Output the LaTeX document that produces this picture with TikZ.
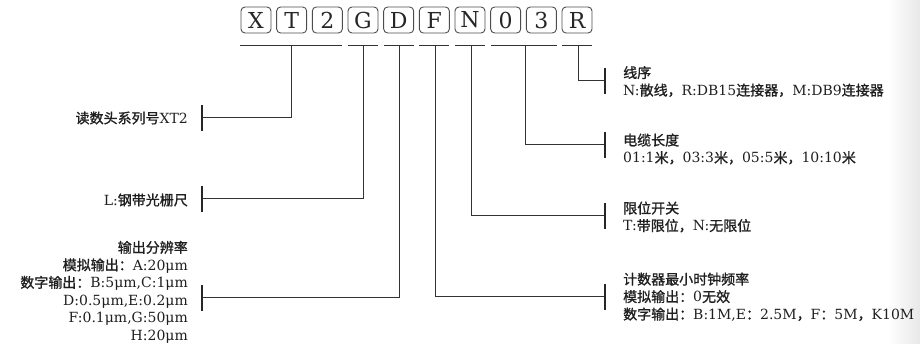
\documentclass[tikz,border=0pt]{standalone}
\usepackage{fontspec}
\setmainfont{DejaVu Serif}
\newfontfamily\cjk{Noto Sans CJK SC}[FakeBold=1.2]
\newcommand\zhs[1]{{\cjk #1}}
\usetikzlibrary{calc}
\begin{document}
\begin{tikzpicture}[x=1pt,y=-1pt,
  letterbox/.style={draw=black!70, line width=0.9pt, rounded corners=4pt,
    minimum width=30pt, minimum height=26pt, inner sep=0pt,
    text=black!85, font=\fontsize{22}{22}\selectfont},
  conn/.style={draw=black!80, line width=1pt},
  barline/.style={draw=black!85, line width=1.4pt},
  lbl/.style={inner sep=0pt, text=black!88, font=\fontsize{14}{17.5}\selectfont},
]
\useasboundingbox (0,0) rectangle (920,344);
\shade[left color=white, right color=black!9] (888,0) rectangle (920,344);

% code boxes
\foreach \t [count=\i from 0] in {X,T,2,G,D,F,N,0,3,R}
  \node[letterbox] (b\i) at ({256+35.67*\i},20) {\t};

% underline segments
\coordinate (s1a) at (240,46); \coordinate (s1b) at (342,46);
\coordinate (s2a) at (348,46); \coordinate (s2b) at (378,46);
\coordinate (s3a) at (384,46); \coordinate (s3b) at (414,46);
\coordinate (s4a) at (419,46); \coordinate (s4b) at (449,46);
\coordinate (s5a) at (455,46); \coordinate (s5b) at (485,46);
\coordinate (s6a) at (491,46); \coordinate (s6b) at (557,46);
\coordinate (s7a) at (562,46); \coordinate (s7b) at (592,46);
\foreach \k in {1,...,7} \draw[conn] (s\k a) -- (s\k b);

% tick tops
\coordinate (t1) at (291,46);
\coordinate (t2) at (363,46);
\coordinate (t3) at (399,46);
\coordinate (t4) at (435,46);
\coordinate (t5) at (471,46);
\coordinate (t6) at (525,46);
\coordinate (t7) at (578,46);

% bar points
\coordinate (e1) at (202,118);
\coordinate (e2) at (202,199);
\coordinate (e3) at (202,298);
\coordinate (e4) at (605,297);
\coordinate (e5) at (605,216);
\coordinate (e6) at (605,145);
\coordinate (e7) at (605,81);

\foreach \k in {1,...,7} {
  \draw[conn] (t\k) |- (e\k);
  \draw[barline] ($(e\k)+(0,-13)$) -- ($(e\k)+(0,13)$);
}

% left labels
\node[lbl, anchor=east] (l1) at (188,118) {\zhs{读数头系列号}XT2};
\node[lbl, anchor=east] (l2) at (188,200) {L:\zhs{钢带光栅尺}};
\node[lbl, anchor=east, align=right] (l3) at (188,292) {%
  \zhs{输出分辨率}\\
  \zhs{模拟输出：}A:20μm\\
  \zhs{数字输出：}B:5μm,C:1μm\\
  D:0.5μm,E:0.2μm\\
  F:0.1μm,G:50μm\\
  H:20μm};

% right labels
\node[lbl, anchor=west, align=left] (r7) at (623,81.5) {%
  \zhs{线序}\\
  N:\zhs{散线，}R:DB15\zhs{连接器，}M:DB9\zhs{连接器}};
\node[lbl, anchor=west, align=left] (r6) at (623,149) {%
  \zhs{电缆长度}\\
  01:1\zhs{米，}03:3\zhs{米，}05:5\zhs{米，}10:10\zhs{米}};
\node[lbl, anchor=west, align=left] (r5) at (623,217) {%
  \zhs{限位开关}\\
  T:\zhs{带限位，}N:\zhs{无限位}};
\node[lbl, anchor=west, align=left] (r4) at (623,297) {%
  \zhs{计数器最小时钟频率}\\
  \zhs{模拟输出：}0\zhs{无效}\\
  \zhs{数字输出：}B:1M,E\zhs{：}2.5M\zhs{，}F\zhs{：}5M\zhs{，}K10M};
\end{tikzpicture}
\end{document}
